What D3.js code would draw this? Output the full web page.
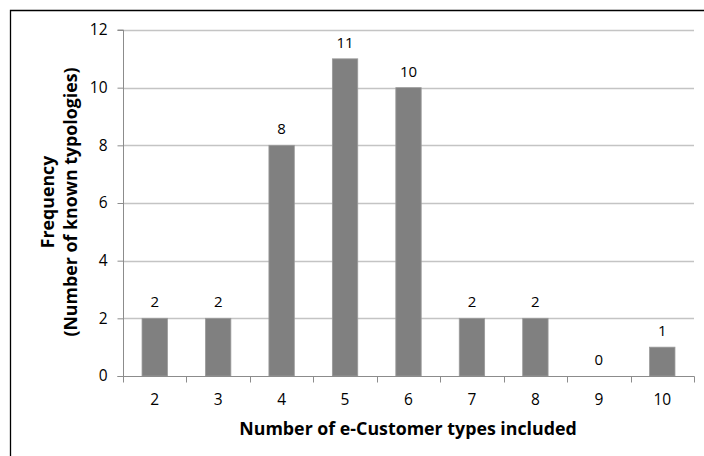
<!DOCTYPE html>
<html>
<head>
<meta charset="utf-8">
<script src="https://cdn.jsdelivr.net/npm/d3@7"></script>
<style>
  html, body { margin: 0; padding: 0; background: #fff; }
  svg { display: block; }
  text { font-family: "Open Sans", Lato, sans-serif; fill: #000; }
</style>
</head>
<body>
<svg id="chart" width="704" height="456"></svg>
<script>
// Number of e-customer types included in each known typology
const categories = ["2", "3", "4", "5", "6", "7", "8", "9", "10"];
const frequencies = [2, 2, 8, 11, 10, 2, 2, 0, 1];
const yTicks = [0, 2, 4, 6, 8, 10, 12];

const svg = d3.select("#chart");
const W = 704, H = 456;
const plot = { left: 123, right: 694, top: 30, bottom: 376 };
const FONT = "'Open Sans', Lato, sans-serif";

// frame line along top and left
svg.append("path")
  .attr("d", `M10.5,${H} V10.5 H${W}`)
  .attr("fill", "none")
  .attr("stroke", "#000")
  .attr("stroke-width", 1.3);

const x = d3.scaleBand()
  .domain(categories)
  .range([plot.left, plot.right])
  .paddingInner(0.6)
  .paddingOuter(0.3);

const xEdge = d3.scaleBand().domain(categories).range([plot.left, plot.right]);

const y = d3.scaleLinear().domain([0, 12]).range([plot.bottom, plot.top]);

// horizontal gridlines
svg.append("g")
  .selectAll("line")
  .data(yTicks.filter(t => t > 0))
  .join("line")
  .attr("x1", plot.left)
  .attr("x2", plot.right)
  .attr("y1", d => Math.round(y(d)) + 0.5)
  .attr("y2", d => Math.round(y(d)) + 0.5)
  .attr("stroke", "#c4c4c4")
  .attr("stroke-width", 1.5);

// bars
svg.append("g")
  .selectAll("rect")
  .data(frequencies.map((v, i) => ({ c: categories[i], v })))
  .join("rect")
  .attr("x", d => x(d.c))
  .attr("width", x.bandwidth())
  .attr("y", d => y(d.v))
  .attr("height", d => y(0) - y(d.v))
  .attr("fill", "#808080")
  .attr("stroke", "#9a9a9a")
  .attr("stroke-width", 0.8);

// value labels
svg.append("g")
  .selectAll("text")
  .data(frequencies.map((v, i) => ({ c: categories[i], v })))
  .join("text")
  .attr("x", d => x(d.c) + x.bandwidth() / 2)
  .attr("y", d => y(d.v) - 11)
  .attr("text-anchor", "middle")
  .attr("font-size", 15)
  .text(d => d.v);

// y axis
const yAxis = svg.append("g")
  .attr("transform", `translate(${plot.left + 0.5},0)`)
  .call(d3.axisLeft(y).tickValues(yTicks).tickSize(6).tickPadding(10));
yAxis.select(".domain").attr("stroke", "#8c8c8c").attr("d", `M-6,${plot.bottom + 0.5}H0V${plot.top}H-6`);
yAxis.selectAll(".tick line").attr("stroke", "#8c8c8c");
yAxis.selectAll(".tick text")
  .attr("font-size", 15.5)
  .attr("font-family", FONT)
  .attr("fill", "#000");

// x axis with ticks on category boundaries
const xg = svg.append("g").attr("transform", `translate(0,${plot.bottom + 0.5})`);
xg.append("line")
  .attr("x1", plot.left).attr("x2", plot.right + 0.5)
  .attr("stroke", "#8c8c8c");
const bounds = categories.map(c => xEdge(c)).concat([plot.right]);
xg.selectAll("line.tk")
  .data(bounds)
  .join("line")
  .attr("class", "tk")
  .attr("x1", d => Math.round(d) + 0.5)
  .attr("x2", d => Math.round(d) + 0.5)
  .attr("y1", 0).attr("y2", 6)
  .attr("stroke", "#8c8c8c");
xg.selectAll("text")
  .data(categories)
  .join("text")
  .attr("x", d => xEdge(d) + xEdge.bandwidth() / 2)
  .attr("y", 28.5)
  .attr("text-anchor", "middle")
  .attr("font-size", 15.5)
  .text(d => d);

// axis titles
svg.append("text")
  .attr("x", (plot.left + plot.right) / 2 - 0.5)
  .attr("y", 435)
  .attr("text-anchor", "middle")
  .attr("font-size", 17.8)
  .attr("font-weight", "bold")
  .text("Number of e-Customer types included");

const yt = svg.append("text")
  .attr("transform", `translate(54,202) rotate(-90)`)
  .attr("text-anchor", "middle")
  .attr("font-size", 17.8)
  .attr("font-weight", "bold");
yt.append("tspan").attr("x", 0).attr("dy", 0).text("Frequency");
yt.append("tspan").attr("x", 0).attr("dy", 23).text("(Number of known typologies)");
</script>
</body>
</html>
